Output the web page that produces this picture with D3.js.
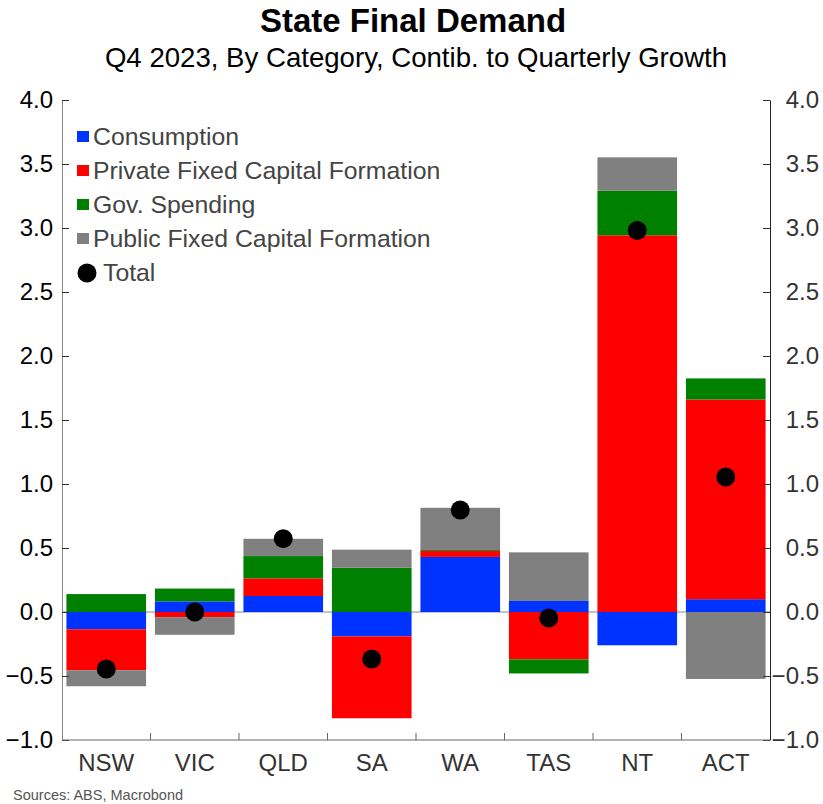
<!DOCTYPE html>
<html>
<head>
<meta charset="utf-8">
<script src="https://cdn.jsdelivr.net/npm/d3@7"></script>
<style>
  body { margin: 0; background: #fff; }
  text { font-family: "Liberation Sans", Arial, sans-serif; }
</style>
</head>
<body>
<div id="chart"></div>
<script>
// categories and series
let states = ["NSW", "VIC", "QLD", "SA", "WA", "TAS", "NT", "ACT"];
let seriesNames = ["Consumption", "Private Fixed Capital Formation", "Gov. Spending", "Public Fixed Capital Formation"];
let seriesColors = ["#0033ff", "#ff0000", "#008000", "#808080"];

let consumption = [-0.135, 0.083, 0.125, -0.19, 0.43, 0.086, -0.26, 0.10];
let privateCapital = [-0.32, -0.04, 0.138, -0.64, 0.047, -0.37, 2.943, 1.56];
let govSpending = [0.14, 0.10, 0.174, 0.346, 0.007, -0.11, 0.348, 0.165];
let publicCapital = [-0.125, -0.138, 0.135, 0.141, 0.33, 0.38, 0.261, -0.523];
let totals = [-0.445, 0.0, 0.573, -0.367, 0.797, -0.047, 2.98, 1.055];

let yTicks = [-1.0, -0.5, 0.0, 0.5, 1.0, 1.5, 2.0, 2.5, 3.0, 3.5, 4.0];

let width = 823, height = 804;
let margin = {top: 100, right: 53, bottom: 64, left: 62};
let innerW = width - margin.left - margin.right;
let innerH = height - margin.top - margin.bottom;

let svg = d3.select("#chart").append("svg")
    .attr("width", width)
    .attr("height", height);

// titles
svg.append("text")
    .attr("x", 413).attr("y", 32)
    .attr("text-anchor", "middle")
    .attr("font-size", 33).attr("font-weight", "bold")
    .attr("fill", "#000")
    .text("State Final Demand");
svg.append("text")
    .attr("x", 416).attr("y", 67)
    .attr("text-anchor", "middle")
    .attr("font-size", 27.6)
    .attr("fill", "#000")
    .text("Q4 2023, By Category, Contib. to Quarterly Growth");

let g = svg.append("g")
    .attr("transform", "translate(" + margin.left + "," + margin.top + ")");

let x = d3.scaleBand().domain(states).range([0, innerW]).paddingInner(0.1).paddingOuter(0.05);
let y = d3.scaleLinear().domain([-1, 4]).range([innerH, 0]);

// build rows for stacking
let rows = states.map(function(s, i) {
    return {
        state: s,
        "Consumption": consumption[i],
        "Private Fixed Capital Formation": privateCapital[i],
        "Gov. Spending": govSpending[i],
        "Public Fixed Capital Formation": publicCapital[i]
    };
});

let stack = d3.stack()
    .keys(seriesNames)
    .order(d3.stackOrderNone)
    .offset(d3.stackOffsetDiverging);
let stacked = stack(rows);

// zero line
g.append("line")
    .attr("x1", 0).attr("x2", innerW)
    .attr("y1", y(0)).attr("y2", y(0))
    .attr("stroke", "#888").attr("stroke-width", 1);

// bars
g.selectAll(".series")
    .data(stacked)
    .enter().append("g")
    .attr("fill", function(d, i) { return seriesColors[i]; })
    .selectAll("rect")
    .data(function(d) { return d; })
    .enter().append("rect")
    .attr("x", function(d) { return x(d.data.state); })
    .attr("width", x.bandwidth())
    .attr("y", function(d) { return y(Math.max(d[0], d[1])); })
    .attr("height", function(d) { return Math.abs(y(d[0]) - y(d[1])); });

// totals
g.selectAll(".total")
    .data(totals)
    .enter().append("circle")
    .attr("cx", function(d, i) { return x(states[i]) + x.bandwidth() / 2; })
    .attr("cy", function(d) { return y(d); })
    .attr("r", 9.5)
    .attr("fill", "#000");

// axes
let fmt = d3.format(".1f");
let leftAxis = g.append("g")
    .call(d3.axisRight(y).tickValues(yTicks).tickFormat(fmt).tickSize(7).tickSizeOuter(0));
leftAxis.select(".domain").attr("stroke", "#888");
leftAxis.selectAll(".tick line").attr("stroke", "#333");
leftAxis.selectAll(".tick text")
    .attr("x", -9).attr("text-anchor", "end")
    .attr("font-size", 24).attr("fill", "#000")
    .style("font-family", "Liberation Sans, Arial, sans-serif");

let rightAxis = g.append("g")
    .attr("transform", "translate(" + innerW + ",0)")
    .call(d3.axisLeft(y).tickValues(yTicks).tickFormat(fmt).tickSize(7).tickSizeOuter(0));
rightAxis.select(".domain").attr("stroke", "#222");
rightAxis.selectAll(".tick line").attr("stroke", "#333");
rightAxis.selectAll(".tick text")
    .attr("x", 49).attr("text-anchor", "end")
    .attr("font-size", 24).attr("fill", "#333")
    .style("font-family", "Liberation Sans, Arial, sans-serif");

// bottom axis with ticks between bands
let bottom = g.append("g").attr("transform", "translate(0," + innerH + ")");
bottom.append("line")
    .attr("x1", 0).attr("x2", innerW)
    .attr("stroke", "#666");
let step = innerW / states.length;
bottom.selectAll(".sep")
    .data(d3.range(1, states.length))
    .enter().append("line")
    .attr("x1", function(d) { return d * step; })
    .attr("x2", function(d) { return d * step; })
    .attr("y1", 0).attr("y2", -7)
    .attr("stroke", "#666");
bottom.selectAll(".lab")
    .data(states)
    .enter().append("text")
    .attr("x", function(d) { return x(d) + x.bandwidth() / 2; })
    .attr("y", 31)
    .attr("text-anchor", "middle")
    .attr("font-size", 24)
    .attr("fill", "#333")
    .text(function(d) { return d; });

// legend
let legend = svg.append("g").attr("transform", "translate(77,137)");
let legendItems = seriesNames.concat(["Total"]);
legendItems.forEach(function(name, i) {
    let row = legend.append("g").attr("transform", "translate(0," + i * 34 + ")");
    if (i < 4) {
        row.append("rect")
            .attr("x", 0).attr("y", -6).attr("width", 12).attr("height", 11)
            .attr("fill", seriesColors[i]);
    } else {
        row.append("circle").attr("cx", 10).attr("cy", 0).attr("r", 9.5).attr("fill", "#000");
    }
    row.append("text")
        .attr("x", i < 4 ? 16 : 26).attr("y", 8)
        .attr("font-size", 24.8)
        .attr("fill", "#444")
        .text(name);
});

// source
svg.append("text")
    .attr("x", 13).attr("y", 800)
    .attr("font-size", 14.5)
    .attr("fill", "#555")
    .text("Sources: ABS, Macrobond");
</script>
</body>
</html>
